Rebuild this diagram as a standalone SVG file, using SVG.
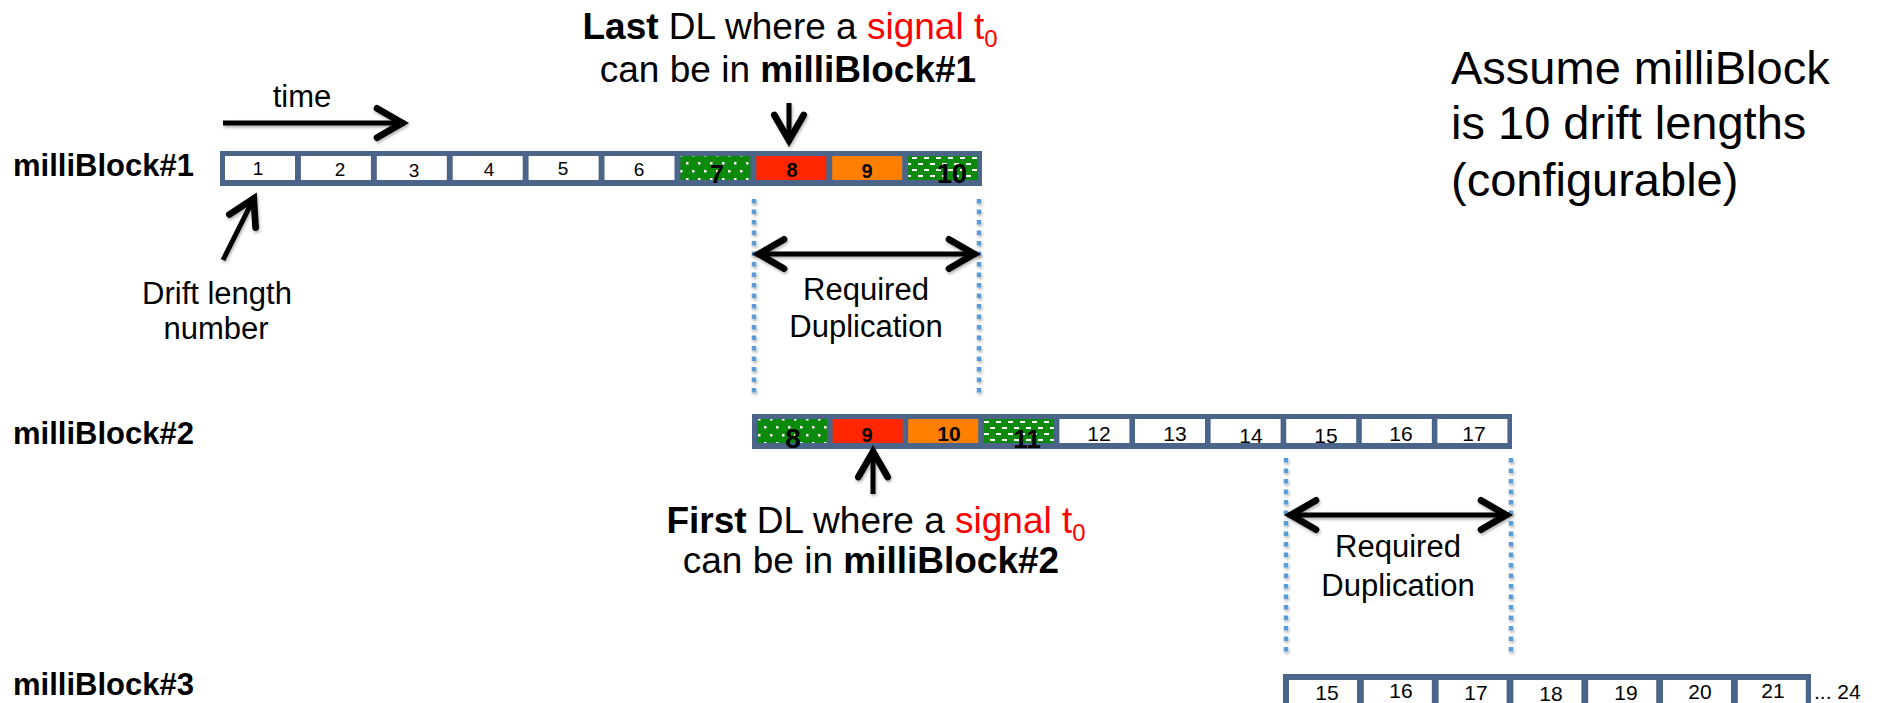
<svg xmlns="http://www.w3.org/2000/svg" width="1877" height="703" viewBox="0 0 1877 703">
<style>
text{font-family:"Liberation Sans",Arial,sans-serif;fill:#000}
.lbl{font-size:31px;font-weight:bold}
.t31{font-size:31px}
.t36{font-size:37px}
.big{font-size:47px}
.b{font-weight:bold}
.red{fill:#ff0000}
.frame{fill:#4b6489}
.cell{fill:#fff}
.n1{font-size:19px;text-anchor:middle}
.n2{font-size:21px;text-anchor:middle}
.nb{font-weight:bold;text-anchor:middle}
.arr{stroke:#000;stroke-width:5;fill:none;marker-end:url(#chev);filter:url(#sh)}
.darr{stroke:#000;stroke-width:5;fill:none;marker-end:url(#chev);marker-start:url(#chev);filter:url(#sh)}
.dot{stroke:#5b9bd5;stroke-width:4.5;stroke-dasharray:4.5 6;fill:none;filter:url(#sh)}
</style>
<defs>
<filter id="sh" filterUnits="userSpaceOnUse" x="0" y="0" width="1877" height="703">
<feDropShadow dx="1" dy="2" stdDeviation="1.5" flood-color="#000" flood-opacity="0.3"/>
</filter>
<marker id="chev" markerUnits="userSpaceOnUse" markerWidth="40" markerHeight="40" viewBox="-26 -15 30 30" refX="0" refY="0" orient="auto-start-reverse">
<path d="M-21,-11 L-2,0 L-21,11" fill="none" stroke="#000" stroke-width="5" stroke-linecap="round"/>
</marker>
<pattern id="dots" width="12" height="16" patternUnits="userSpaceOnUse">
<rect width="12" height="16" fill="#0b8a0b"/>
<rect x="2" y="2" width="2.5" height="2.5" fill="#fff"/>
<rect x="8" y="10" width="2.5" height="2.5" fill="#fff"/>
</pattern>
<pattern id="dashes" width="12" height="12" patternUnits="userSpaceOnUse">
<rect width="12" height="12" fill="#0b8a0b"/>
<rect x="0" y="1" width="5" height="2" fill="#fff"/>
<rect x="6" y="7" width="5" height="2" fill="#fff"/>
</pattern>
</defs>
<rect width="1877" height="703" fill="#fff"/>

<g id="note-last">
<text class="t36" x="790" y="39" text-anchor="middle"><tspan class="b">Last</tspan> DL where a <tspan class="red">signal t</tspan><tspan class="red" font-size="24" dy="8">0</tspan></text>
<text class="t36" x="788" y="82" text-anchor="middle">can be in <tspan class="b">milliBlock#1</tspan></text>
</g>

<g id="time-label"><text class="t31" x="302" y="107" text-anchor="middle">time</text></g>

<g id="note-assume">
<text class="big" x="1451" y="84">Assume milliBlock</text>
<text class="big" x="1451" y="139">is 10 drift lengths</text>
<text class="big" x="1451" y="196">(configurable)</text>
</g>

<g id="label-mb1"><text class="lbl" x="13" y="176">milliBlock#1</text></g>
<g id="label-mb2"><text class="lbl" x="13" y="444">milliBlock#2</text></g>
<g id="label-mb3"><text class="lbl" x="13" y="695">milliBlock#3</text></g>

<g id="mb1">
<rect class="frame" x="220" y="151" width="762" height="35"/>
<rect class="cell" x="225" y="156" width="70" height="24"/>
<rect class="cell" x="300.9" y="156" width="70" height="24"/>
<rect class="cell" x="376.8" y="156" width="70" height="24"/>
<rect class="cell" x="452.7" y="156" width="70" height="24"/>
<rect class="cell" x="528.6" y="156" width="70" height="24"/>
<rect class="cell" x="604.5" y="156" width="70" height="24"/>
<rect fill="url(#dots)" x="680.4" y="156" width="70" height="24"/>
<rect fill="#ff2600" x="756.3" y="156" width="70" height="24"/>
<rect fill="#ff8000" x="832.2" y="156" width="70" height="24"/>
<rect fill="url(#dashes)" x="908.1" y="156" width="70" height="24"/>
<text class="n1" x="258" y="175">1</text>
<text class="n1" x="340" y="176">2</text>
<text class="n1" x="414" y="177">3</text>
<text class="n1" x="489" y="176">4</text>
<text class="n1" x="563" y="175">5</text>
<text class="n1" x="639" y="176">6</text>
<text class="nb" font-size="25" x="717" y="183">7</text>
<text class="nb" font-size="20" x="792" y="177">8</text>
<text class="nb" font-size="20" x="867" y="178">9</text>
<text class="nb" font-size="27" x="952" y="183">10</text>
</g>

<g id="mb2">
<rect class="frame" x="752" y="414" width="760" height="35"/>
<rect fill="url(#dots)" x="757" y="419" width="70" height="24"/>
<rect fill="#ff2600" x="832.6" y="419" width="70" height="24"/>
<rect fill="#ff8000" x="908.2" y="419" width="70" height="24"/>
<rect fill="url(#dashes)" x="983.8" y="419" width="70" height="24"/>
<rect class="cell" x="1059.4" y="419" width="70" height="24"/>
<rect class="cell" x="1135" y="419" width="70" height="24"/>
<rect class="cell" x="1210.6" y="419" width="70" height="24"/>
<rect class="cell" x="1286.2" y="419" width="70" height="24"/>
<rect class="cell" x="1361.8" y="419" width="70" height="24"/>
<rect class="cell" x="1437.4" y="419" width="70" height="24"/>
<text class="nb" font-size="28" x="793" y="448">8</text>
<text class="nb" font-size="20" x="867" y="442">9</text>
<text class="nb" font-size="21" x="949" y="441">10</text>
<text class="nb" font-size="26" x="1027" y="448">11</text>
<text class="n2" x="1099" y="441">12</text>
<text class="n2" x="1175" y="441">13</text>
<text class="n2" x="1251" y="443">14</text>
<text class="n2" x="1326" y="443">15</text>
<text class="n2" x="1401" y="441">16</text>
<text class="n2" x="1474" y="441">17</text>
</g>

<g id="mb3">
<rect class="frame" x="1283" y="674" width="528" height="40"/>
<rect class="cell" x="1289" y="680" width="68" height="30"/>
<rect class="cell" x="1363.8" y="680" width="68" height="30"/>
<rect class="cell" x="1438.6" y="680" width="68" height="30"/>
<rect class="cell" x="1513.4" y="680" width="68" height="30"/>
<rect class="cell" x="1588.2" y="680" width="68" height="30"/>
<rect class="cell" x="1663" y="680" width="68" height="30"/>
<rect class="cell" x="1737.8" y="680" width="68" height="30"/>
<text class="n2" x="1327" y="700">15</text>
<text class="n2" x="1401" y="698">16</text>
<text class="n2" x="1476" y="700">17</text>
<text class="n2" x="1551" y="701">18</text>
<text class="n2" x="1626" y="700">19</text>
<text class="n2" x="1700" y="699">20</text>
<text class="n2" x="1773" y="698">21</text>
<text font-size="21" x="1814" y="699">... 24</text>
</g>

<g id="drift-label">
<text class="t31" x="217" y="304" text-anchor="middle">Drift length</text>
<text class="t31" x="216" y="339" text-anchor="middle">number</text>
</g>

<g id="dup1">
<text class="t31" x="866" y="300" text-anchor="middle">Required</text>
<text class="t31" x="866" y="337" text-anchor="middle">Duplication</text>
</g>

<g id="dup2">
<text class="t31" x="1398" y="557" text-anchor="middle">Required</text>
<text class="t31" x="1398" y="596" text-anchor="middle">Duplication</text>
</g>

<g id="note-first">
<text class="t36" x="876" y="533" text-anchor="middle"><tspan class="b">First</tspan> DL where a <tspan class="red">signal t</tspan><tspan class="red" font-size="24" dy="8">0</tspan></text>
<text class="t36" x="871" y="573" text-anchor="middle">can be in <tspan class="b">milliBlock#2</tspan></text>
</g>

<g id="connectors">
<line class="arr" x1="223" y1="123" x2="405" y2="123"/>
<line class="arr" x1="789" y1="103" x2="789" y2="143"/>
<line class="arr" x1="223" y1="260" x2="255" y2="196"/>
<line class="arr" x1="873" y1="494" x2="873" y2="449"/>
<line class="dot" x1="754" y1="199" x2="754" y2="396"/>
<line class="dot" x1="979" y1="199" x2="979" y2="396"/>
<line class="darr" x1="756" y1="254" x2="977" y2="254"/>
<line class="dot" x1="1286" y1="458" x2="1286" y2="653"/>
<line class="dot" x1="1511" y1="458" x2="1511" y2="653"/>
<line class="darr" x1="1288" y1="515" x2="1509" y2="515"/>
</g>
</svg>
